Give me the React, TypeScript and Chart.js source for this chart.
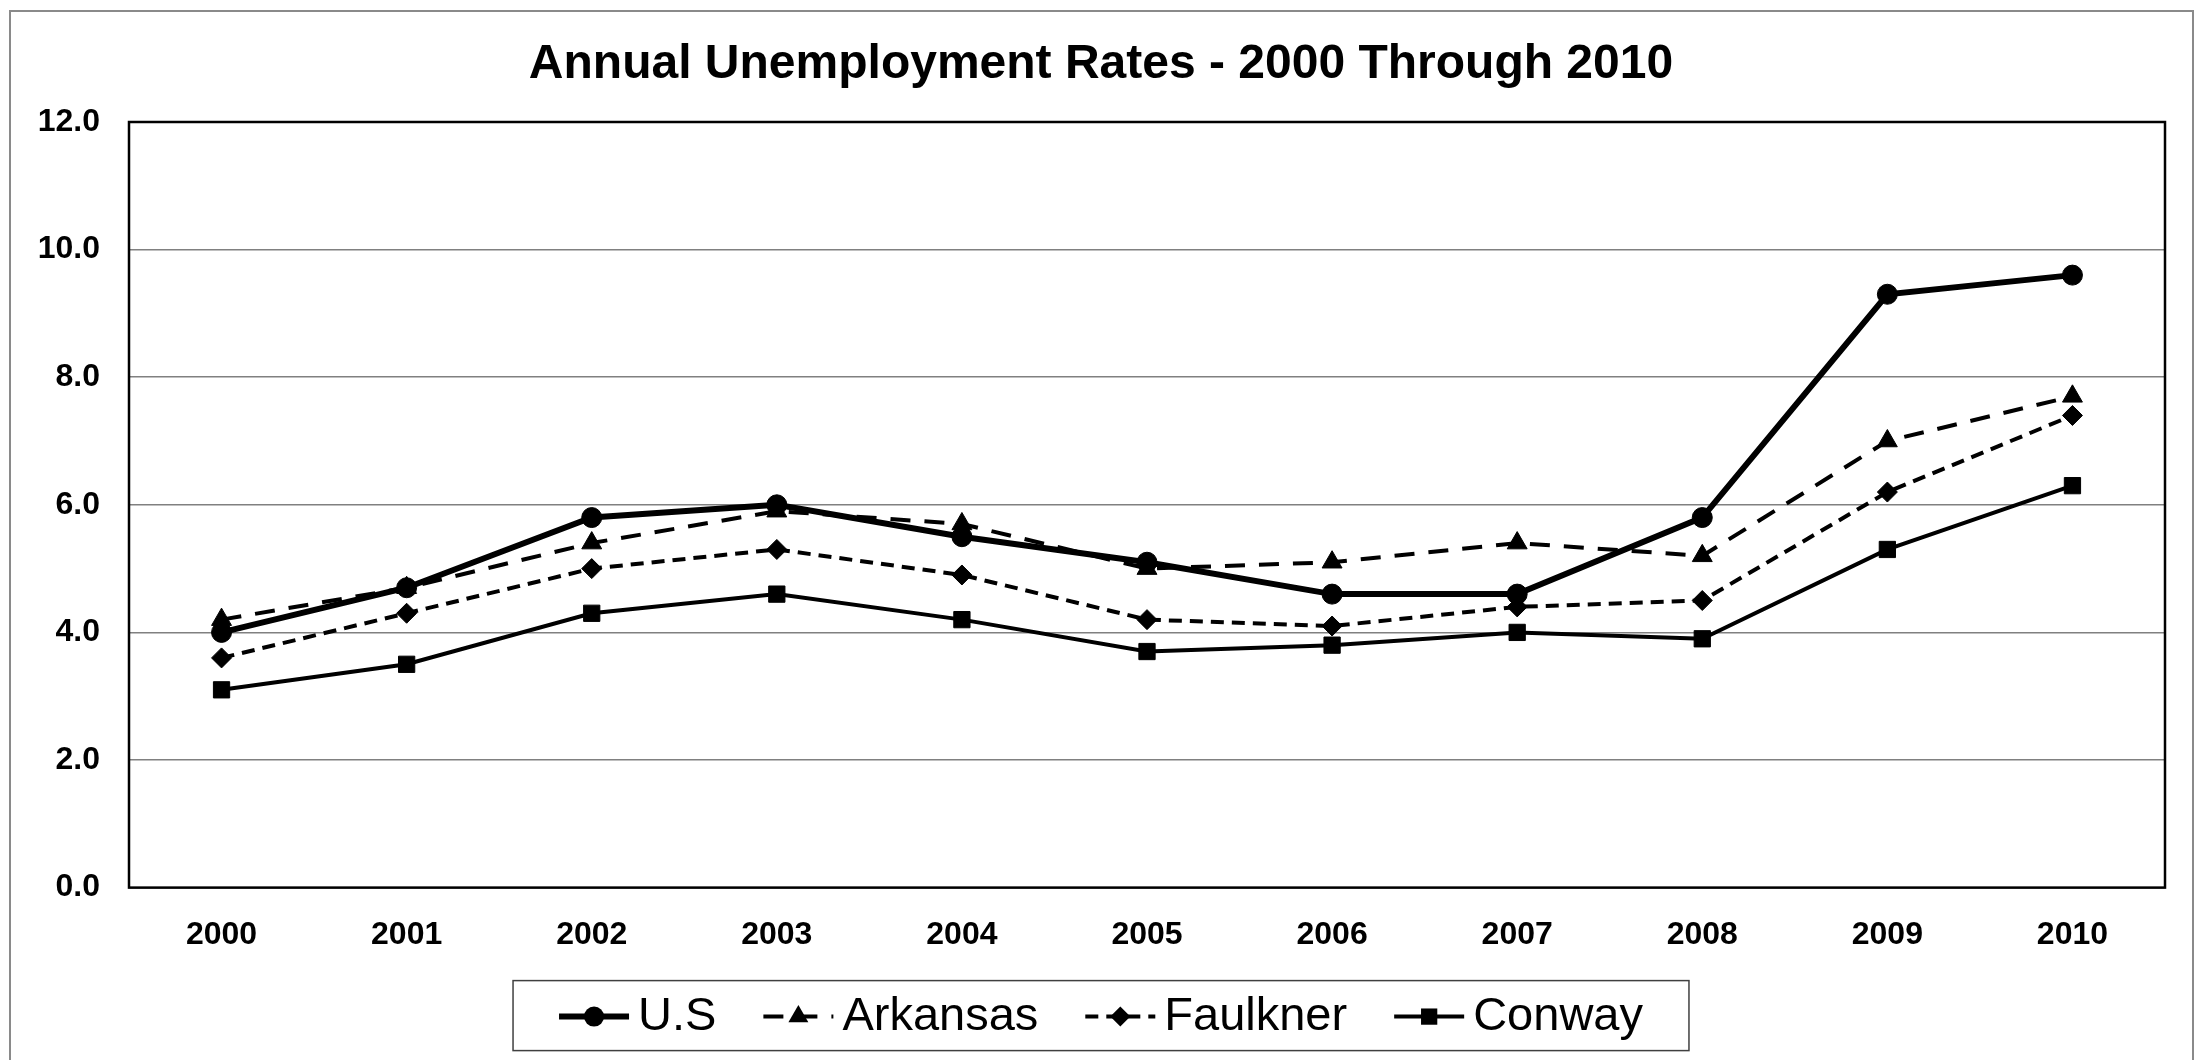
import React, { useEffect, useRef } from 'react';
import { Chart, registerables } from 'chart.js';

Chart.register(...registerables);

// ---------- data ----------
const years = ['2000', '2001', '2002', '2003', '2004', '2005', '2006', '2007', '2008', '2009', '2010'];
const usRates = [4.0, 4.7, 5.8, 6.0, 5.5, 5.1, 4.6, 4.6, 5.8, 9.3, 9.6];
const arkansasRates = [4.2, 4.7, 5.4, 5.9, 5.7, 5.0, 5.1, 5.4, 5.2, 7.0, 7.7];
const faulknerRates = [3.6, 4.3, 5.0, 5.3, 4.9, 4.2, 4.1, 4.4, 4.5, 6.2, 7.4];
const conwayRates = [3.1, 3.5, 4.3, 4.6, 4.2, 3.7, 3.8, 4.0, 3.9, 5.3, 6.3];
const seriesNames = ['U.S', 'Arkansas', 'Faulkner', 'Conway'];
const yMin = 0;
const yMax = 12;
const yStep = 2;
const chartTitle = 'Annual Unemployment Rates - 2000 Through 2010';

const FONT = "'Liberation Sans', Arial, Helvetica, sans-serif";

function drawMarker(ctx: CanvasRenderingContext2D, style: string, r: number, x: number, y: number) {
  ctx.save();
  ctx.fillStyle = '#000';
  ctx.beginPath();
  if (style === 'circle') {
    ctx.arc(x, y, r, 0, Math.PI * 2);
  } else if (style === 'triangle') {
    ctx.moveTo(x, y - r);
    ctx.lineTo(x + r * Math.sin(Math.PI * 2 / 3), y + r / 2);
    ctx.lineTo(x - r * Math.sin(Math.PI * 2 / 3), y + r / 2);
    ctx.closePath();
  } else if (style === 'rectRot') {
    ctx.moveTo(x, y - r);
    ctx.lineTo(x + r, y);
    ctx.lineTo(x, y + r);
    ctx.lineTo(x - r, y);
    ctx.closePath();
  } else {
    const s = r * Math.SQRT1_2;
    ctx.rect(x - s, y - s, 2 * s, 2 * s);
  }
  ctx.fill();
  ctx.restore();
}

const framePlugin = {
  id: 'frameAndBorder',
  beforeDraw(chart: any) {
    const ctx = chart.ctx as CanvasRenderingContext2D;
    ctx.save();
    ctx.fillStyle = '#ffffff';
    ctx.fillRect(0, 0, chart.width, chart.height);
    ctx.strokeStyle = '#8a8a8a';
    ctx.lineWidth = 2;
    ctx.strokeRect(10, 11, 2183, 1200);
    ctx.restore();
  },
  beforeDatasetsDraw(chart: any) {
    const { ctx, chartArea } = chart;
    ctx.save();
    ctx.strokeStyle = '#000';
    ctx.lineWidth = 2.5;
    ctx.strokeRect(chartArea.left, chartArea.top, chartArea.right - chartArea.left, chartArea.bottom - chartArea.top);
    ctx.restore();
  },
};

const legendPlugin = {
  id: 'boxedLegend',
  afterDraw(chart: any) {
    const ctx = chart.ctx as CanvasRenderingContext2D;
    const sets = chart.data.datasets;
    ctx.save();
    ctx.font = `47px ${FONT}`;
    const sampleW = 70;
    const gapText = 9;
    const gapItem = 47;
    const padX = 46;
    const widths = sets.map((d: any) => ctx.measureText(d.label).width);
    const content =
      widths.reduce((a: number, b: number) => a + b, 0) +
      sets.length * (sampleW + gapText) +
      (sets.length - 1) * gapItem;
    const boxW = content + 2 * padX;
    const boxH = 70;
    const boxL = chart.width / 2 - boxW / 2;
    const boxT = chart.chartArea.bottom + 93;
    ctx.strokeStyle = '#404040';
    ctx.lineWidth = 1.5;
    ctx.strokeRect(boxL, boxT, boxW, boxH);
    const cy = boxT + boxH / 2 + 1;
    let x = boxL + padX;
    sets.forEach((d: any, i: number) => {
      ctx.save();
      ctx.strokeStyle = '#000';
      ctx.lineWidth = d.borderWidth;
      ctx.lineCap = 'butt';
      ctx.setLineDash(d.borderDash || []);
      ctx.beginPath();
      ctx.moveTo(x, cy);
      ctx.lineTo(x + sampleW, cy);
      ctx.stroke();
      ctx.setLineDash([]);
      drawMarker(ctx, d.pointStyle, d.pointRadius, x + sampleW / 2, cy);
      ctx.restore();
      ctx.fillStyle = '#000';
      ctx.textBaseline = 'middle';
      ctx.textAlign = 'left';
      ctx.fillText(d.label, x + sampleW + gapText, cy);
      x += sampleW + gapText + widths[i] + gapItem;
    });
    ctx.restore();
  },
};

export default function App() {
  const canvasRef = useRef<HTMLCanvasElement | null>(null);

  useEffect(() => {
    if (!canvasRef.current) return;
    const common = {
      borderColor: '#000',
      pointBackgroundColor: '#000',
      pointBorderColor: '#000',
      pointBorderWidth: 1,
      fill: false,
      tension: 0,
      borderCapStyle: 'butt' as const,
    };
    const chart = new Chart(canvasRef.current, {
      type: 'line',
      data: {
        labels: years,
        datasets: [
          { ...common, label: seriesNames[0], data: usRates, borderWidth: 6, pointStyle: 'circle', pointRadius: 10, borderDash: [] },
          { ...common, label: seriesNames[1], data: arkansasRates, borderWidth: 4, pointStyle: 'triangle', pointRadius: 11.5, borderDash: [20, 14] },
          { ...common, label: seriesNames[2], data: faulknerRates, borderWidth: 4, pointStyle: 'rectRot', pointRadius: 10, borderDash: [13, 8] },
          { ...common, label: seriesNames[3], data: conwayRates, borderWidth: 4, pointStyle: 'rect', pointRadius: 11.5, borderDash: [] },
        ],
      },
      options: {
        responsive: true,
        maintainAspectRatio: false,
        animation: false,
        layout: { padding: { left: 37, right: 37, top: 0, bottom: 78 } },
        plugins: {
          legend: { display: false },
          tooltip: { enabled: false },
          title: {
            display: true,
            text: chartTitle,
            color: '#000',
            font: { family: FONT, size: 48, weight: 'bold' },
            padding: { top: 36, bottom: 28.4 },
          },
        },
        scales: {
          x: {
            offset: true,
            grid: { display: false, drawTicks: false },
            border: { display: false },
            ticks: {
              color: '#000',
              padding: 28,
              maxRotation: 0,
              font: { family: FONT, size: 32, weight: 'bold' },
            },
          },
          y: {
            min: yMin,
            max: yMax,
            afterFit: (scale: any) => {
              scale.width = 92;
            },
            grid: { color: '#808080', lineWidth: 1.5, drawTicks: false },
            border: { display: false },
            ticks: {
              stepSize: yStep,
              color: '#000',
              padding: 29,
              font: { family: FONT, size: 32, weight: 'bold' },
              callback: (v: any) => Number(v).toFixed(1),
            },
          },
        },
      },
      plugins: [framePlugin, legendPlugin],
    });
    return () => chart.destroy();
  }, []);

  return (
    <div
      style={{
        position: 'fixed',
        left: 0,
        top: 0,
        width: 2202,
        height: 1060,
        overflow: 'hidden',
        background: '#fff',
      }}
    >
      <canvas ref={canvasRef} />
    </div>
  );
}
